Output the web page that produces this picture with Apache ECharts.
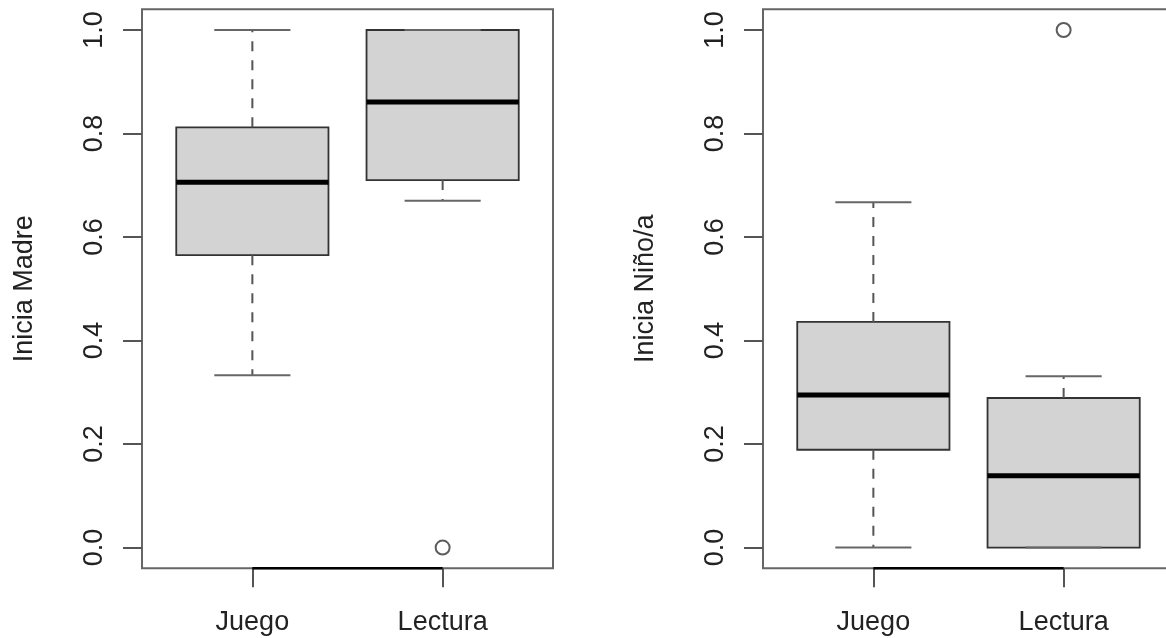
<!DOCTYPE html>
<html>
<head>
<meta charset="utf-8">
<script src="https://cdn.jsdelivr.net/npm/echarts@6/dist/echarts.min.js"></script>
<style>
  html, body { margin: 0; padding: 0; background: #ffffff; }
  #chart { width: 1166px; height: 638px; }
</style>
</head>
<body>
<div id="chart"></div>
<script>
// ---- Data ----
const categories = ['Juego', 'Lectura'];
// [lower whisker, Q1, median, Q3, upper whisker]
const madreStats = [
  [0.333, 0.565, 0.706, 0.812, 1.0],
  [0.670, 0.710, 0.861, 1.0, 1.0]
];
const madreOutliers = [[], [0.0]];
const ninoStats = [
  [0.0, 0.189, 0.295, 0.436, 0.667],
  [0.0, 0.0, 0.139, 0.289, 0.331]
];
const ninoOutliers = [[], [1.0]];
const yTicks = [0, 0.2, 0.4, 0.6, 0.8, 1.0];
const yNames = ['Inicia Madre', 'Inicia Niño/a'];

// R-style axis extents (4% padding)
const Y_MIN = -0.04, Y_MAX = 1.04;
const X_MIN = 0.42, X_MAX = 2.58;

const FONT = '"Liberation Sans", Arial, Helvetica, sans-serif';
const TXT = '#222';

function renderBox(params, api) {
  const x = api.value(0);
  const lo = api.value(1), q1 = api.value(2), med = api.value(3), q3 = api.value(4), hi = api.value(5);
  const unit = api.size([1, 0])[0];
  const hw = unit * 0.4, cw = unit * 0.2;
  const pLo = api.coord([x, lo]), pQ1 = api.coord([x, q1]), pMed = api.coord([x, med]);
  const pQ3 = api.coord([x, q3]), pHi = api.coord([x, hi]);
  const cx = pMed[0];
  const whisk = { stroke: '#555', lineWidth: 2, lineDash: [10, 9] };
  const cap = { stroke: '#666', lineWidth: 2 };
  return {
    type: 'group',
    children: [
      { type: 'rect', shape: { x: cx - hw, y: pQ3[1], width: 2 * hw, height: pQ1[1] - pQ3[1] },
        style: { fill: '#d3d3d3', stroke: '#333', lineWidth: 1.8 } },
      { type: 'line', shape: { x1: cx - hw, y1: pMed[1], x2: cx + hw, y2: pMed[1] },
        style: { stroke: '#000', lineWidth: 5 } },
      { type: 'line', shape: { x1: cx, y1: pQ3[1], x2: cx, y2: pHi[1] }, style: whisk },
      { type: 'line', shape: { x1: cx, y1: pQ1[1], x2: cx, y2: pLo[1] }, style: whisk },
      { type: 'line', shape: { x1: cx - cw, y1: pHi[1], x2: cx + cw, y2: pHi[1] }, style: cap },
      { type: 'line', shape: { x1: cx - cw, y1: pLo[1], x2: cx + cw, y2: pLo[1] }, style: cap }
    ]
  };
}

const gridLefts = [142, 763];
const statsList = [madreStats, ninoStats];
const outList = [madreOutliers, ninoOutliers];
const catValues = categories.map((c, i) => i + 1);

const grids = [], xAxes = [], yAxes = [], series = [];
for (let p = 0; p < 2; p++) {
  grids.push({ left: gridLefts[p], top: 9.3, width: 411, height: 559,
    outerBoundsMode: 'none', containLabel: false,
    show: true, borderColor: '#666', borderWidth: 2, backgroundColor: 'transparent' });
  xAxes.push({
    gridIndex: p, type: 'value', min: X_MIN, max: X_MAX, position: 'bottom',
    splitLine: { show: false }, axisLine: { show: false, onZero: false },
    axisTick: { show: true, customValues: catValues, length: 19, lineStyle: { color: '#555', width: 2 } },
    axisLabel: { show: true, customValues: catValues, margin: 41,
      formatter: v => categories[Math.round(v) - 1] || '',
      fontSize: 27, color: TXT, fontFamily: FONT }
  });
  yAxes.push({
    gridIndex: p, type: 'value', min: Y_MIN, max: Y_MAX, position: 'left',
    name: yNames[p], nameLocation: 'middle', nameGap: 104,
    nameTextStyle: { fontSize: 27, color: TXT, fontFamily: FONT },
    splitLine: { show: false }, axisLine: { show: false, onZero: false },
    axisTick: { show: true, customValues: yTicks, length: 19, lineStyle: { color: '#555', width: 2 } },
    axisLabel: { show: true, customValues: yTicks, rotate: 90, margin: 34,
      formatter: v => Number(v).toFixed(1), fontSize: 27, color: TXT, fontFamily: FONT }
  });
  series.push({
    type: 'custom', xAxisIndex: p, yAxisIndex: p,
    renderItem: renderBox,
    data: statsList[p].map((s, i) => [i + 1].concat(s)),
    z: 3
  });
  const outPts = [];
  outList[p].forEach((arr, i) => arr.forEach(v => outPts.push([i + 1, v])));
  series.push({
    type: 'scatter', xAxisIndex: p, yAxisIndex: p, data: outPts,
    symbol: 'emptyCircle', symbolSize: 14,
    itemStyle: { color: '#333', borderColor: '#333', borderWidth: 1.8 }, z: 4
  });
  // R draws the x axis line only between the first and last category
  series.push({
    type: 'line', xAxisIndex: p, yAxisIndex: p,
    data: [[catValues[0], Y_MIN], [catValues[catValues.length - 1], Y_MIN]],
    symbol: 'none', clip: false, silent: true,
    lineStyle: { color: '#000', width: 2.5 }, z: 5
  });
}

const chart = echarts.init(document.getElementById('chart'), null, { renderer: 'canvas' });
chart.setOption({
  backgroundColor: '#ffffff',
  animation: false,
  grid: grids, xAxis: xAxes, yAxis: yAxes, series: series
});
</script>
</body>
</html>
